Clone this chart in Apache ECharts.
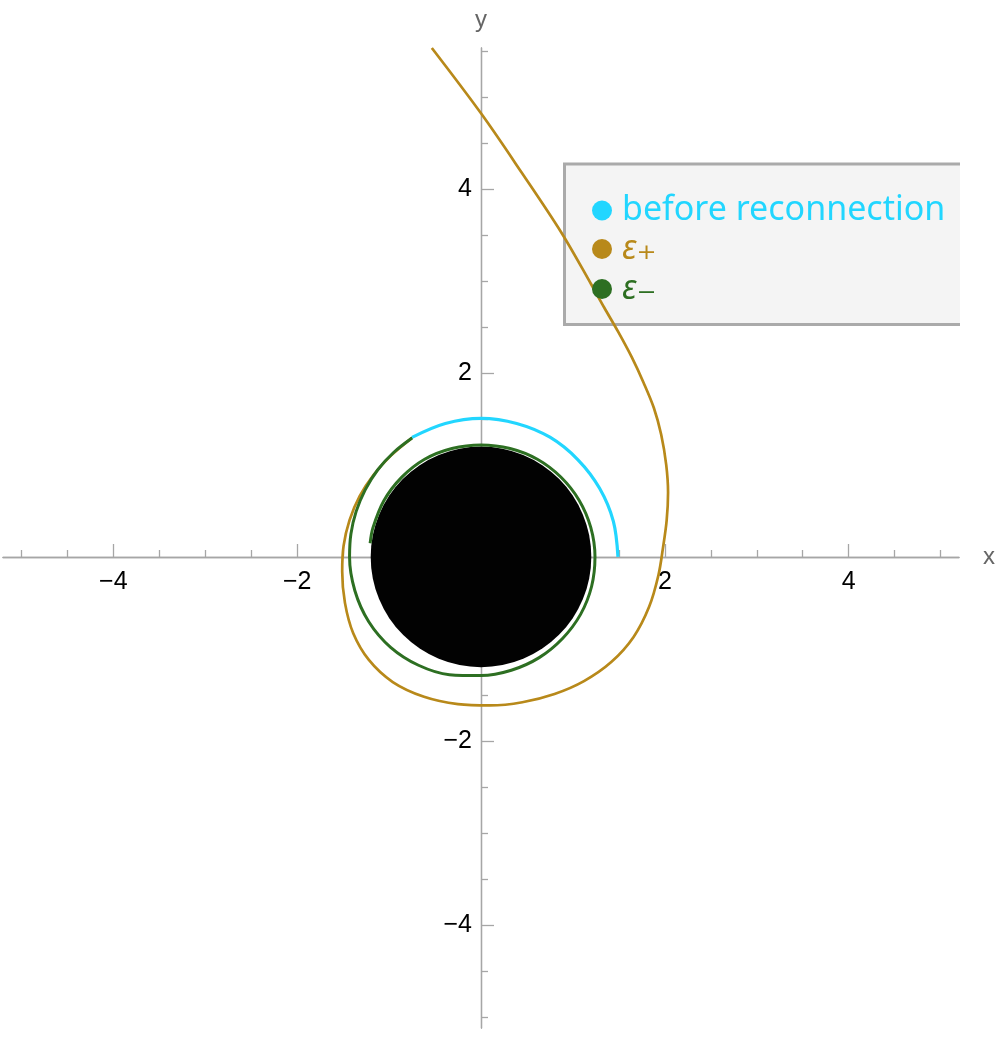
<!DOCTYPE html>
<html>
<head>
<meta charset="utf-8">
<script src="https://cdn.jsdelivr.net/npm/echarts@6/dist/echarts.min.js"></script>
<style>
    html, body { margin: 0; padding: 0; background: #fff; }
    #chart { width: 997px; height: 1041px; }
</style>
</head>
<body>
<div id="chart"></div>
<script>
// curves, [x, y]
const beforePath = [
    [-0.75, 1.299], [-0.388, 1.449], [0, 1.505], [0.388, 1.45], [0.75, 1.3],
    [1.055, 1.055], [1.29, 0.745], [1.44, 0.386], [1.49, 0]
];
const plusPath = [
    [-0.753, 1.29], [-0.98, 1.10], [-1.17, 0.89], [-1.32, 0.66], [-1.43, 0.40],
    [-1.495, 0.12], [-1.51, -0.16], [-1.48, -0.50], [-1.39, -0.83], [-1.22, -1.12],
    [-0.96, -1.36], [-0.62, -1.52], [-0.25, -1.60], [0.098, -1.615], [0.45, -1.58],
    [0.80, -1.49], [1.12, -1.35], [1.42, -1.14], [1.66, -0.87], [1.83, -0.54],
    [1.93, -0.2], [1.98, 0.1], [2.02, 0.40], [2.035, 0.7], [2.015, 1.0],
    [1.96, 1.33], [1.88, 1.62], [1.77, 1.89], [1.64, 2.17], [1.49, 2.45],
    [1.34, 2.71], [1.2, 2.96], [0.877, 3.52], [0.44, 4.18], [0, 4.82], [-0.535, 5.53]
];
const minusPath = [
    [-0.747, 1.294], [-0.951, 1.134], [-1.125, 0.944], [-1.26, 0.728], [-1.358, 0.494],
    [-1.415, 0.25], [-1.43, 0], [-1.372, -0.368], [-1.221, -0.705], [-0.983, -0.983],
    [-0.68, -1.178], [-0.343, -1.28], [0, -1.29], [0.33, -1.232], [0.633, -1.095],
    [0.887, -0.887], [1.083, -0.625], [1.203, -0.322], [1.24, 0], [1.194, 0.32],
    [1.067, 0.616], [0.868, 0.868], [0.613, 1.061], [0.316, 1.178], [0, 1.217],
    [-0.316, 1.178], [-0.613, 1.061], [-0.864, 0.864], [-1.057, 0.61], [-1.176, 0.315],
    [-1.206, 0.148]
];
const disk = [[0, 0, 1.2]]; // centre x, centre y, radius

const xMajor = [-4, -2, 2, 4];
const xMinor = [-5, -4.5, -3.5, -3, -2.5, -1.5, -1, -0.5, 0.5, 1, 1.5, 2.5, 3, 3.5, 4.5, 5];
const yMajor = [-4, -2, 2, 4];
const yMinor = [-5, -4.5, -3.5, -3, -2.5, -1.5, -1, -0.5, 0.5, 1, 1.5, 2.5, 3, 3.5, 4.5, 5, 5.5];

const names = ["before reconnection", "eps+", "eps-"];
const colors = ["#22d6ff", "#b8891a", "#2d6f22"];

const chart = echarts.init(document.getElementById("chart"));

const axisGray = "#a6a6a6";
const fmt = (v) => String(v).replace("-", "\u2212");

// grid edges -> zero lines: x zero at 481px, y zero at ~557px
const xOffset = -471;
const yOffset = -478;

function xAxisDef(ticks, len, labels, name) {
    return {
        type: "value", min: -5.2, max: 5.2, position: "bottom", offset: xOffset,
        name: name, nameLocation: "end", nameGap: 24,
        nameTextStyle: { color: "#666", fontSize: 24, fontFamily: "Liberation Sans", verticalAlign: "middle" },
        axisLine: { onZero: false, lineStyle: { color: axisGray, width: 1.3 } },
        axisTick: { show: true, inside: true, length: len, customValues: ticks, lineStyle: { color: axisGray, width: 1.3 } },
        axisLabel: labels ? {
            customValues: labels, formatter: fmt, margin: 13,
            color: "#000", fontSize: 25, fontFamily: "Liberation Sans"
        } : { show: false },
        splitLine: { show: false }
    };
}
function yAxisDef(ticks, len, labels, name) {
    return {
        type: "value", min: -5.12, max: 5.53, position: "left", offset: yOffset,
        name: name, nameLocation: "end", nameGap: 16,
        nameTextStyle: { color: "#666", fontSize: 24, fontFamily: "Liberation Sans", align: "center" },
        axisLine: { onZero: false, lineStyle: { color: axisGray, width: 1.3 } },
        axisTick: { show: true, inside: true, length: len, customValues: ticks, lineStyle: { color: axisGray, width: 1.3 } },
        axisLabel: labels ? {
            customValues: labels, formatter: fmt, margin: 9,
            color: "#000", fontSize: 25, fontFamily: "Liberation Sans"
        } : { show: false },
        splitLine: { show: false }
    };
}

const lineSeries = (name, data, color, width) => ({
    name: name, type: "line", data: data,
    xAxisIndex: 0, yAxisIndex: 0,
    smooth: 0.34, showSymbol: false, symbol: "circle",
    itemStyle: { color: color },
    lineStyle: { color: color, width: width },
    emphasis: { disabled: true }, silent: true, clip: true
});

chart.setOption({
    animation: false,
    backgroundColor: "#fff",
    grid: { left: 3, right: 38, top: 48, bottom: 13, containLabel: false, outerBoundsMode: "none" },
    xAxis: [
        xAxisDef(xMajor, 13, xMajor, "x"),
        xAxisDef(xMinor, 7, null, "")
    ],
    yAxis: [
        yAxisDef(yMajor, 13, yMajor, "y"),
        yAxisDef(yMinor, 7, null, "")
    ],
    graphic: [
        { type: "rect", z: 3, shape: { x: 563, y: 163, width: 397, height: 162 }, style: { fill: "#f4f4f4" } },
        {
            type: "polyline", z: 3,
            shape: { points: [[960, 164], [564.5, 164], [564.5, 324.5], [960, 324.5]] },
            style: { stroke: "#aaaaaa", lineWidth: 3, fill: null }
        }
    ],
    legend: {
        orient: "vertical", left: 587, top: 188, z: 5,
        itemWidth: 20, itemHeight: 20, itemGap: 2, icon: "circle",
        selectedMode: false,
        data: names.map((n, i) => ({ name: n, textStyle: { color: colors[i] } })),
        textStyle: {
            fontSize: 34, fontFamily: "Noto Sans", padding: [0, 0, 0, 5], lineHeight: 35,
            rich: {
                e: { fontSize: 34, fontStyle: "italic", fontFamily: "Noto Sans", lineHeight: 35 },
                s: { fontSize: 38, fontFamily: "DejaVu Sans", lineHeight: 35 }
            }
        },
        formatter: (n) => n === "eps+" ? "{e|\u03b5}{s|\u208a}" : n === "eps-" ? "{e|\u03b5}{s|\u208b}" : n
    },
    series: [
        {
            type: "custom", data: disk, xAxisIndex: 0, yAxisIndex: 0, silent: true,
            renderItem: (params, api) => {
                const c = api.coord([api.value(0), api.value(1)]);
                const r = api.size([api.value(2), 0])[0];
                return { type: "circle", shape: { cx: c[0], cy: c[1], r: r }, style: { fill: "#020202" } };
            }
        },
        lineSeries(names[1], plusPath, colors[1], 2.7),
        lineSeries(names[2], minusPath, colors[2], 3),
        lineSeries(names[0], beforePath, colors[0], 3.2)
    ]
});
</script>
</body>
</html>
